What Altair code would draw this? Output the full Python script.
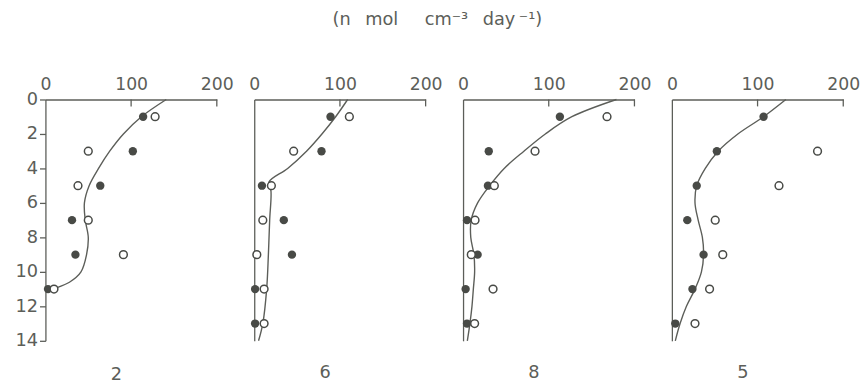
import altair as alt
import pandas as pd

# ---------------- data ----------------
panel_labels = ["2", "6", "8", "5"]

# panel "2"
p1_depth = [1, 3, 5, 7, 9, 11]
p1_filled = [114, 102, 64, 31, 35, 3]
p1_open = [128, 50, 38, 50, 91, 10]
p1_curve_depth = [0, 1, 2, 3, 4, 5, 6, 7, 8, 9, 10, 10.6, 11, 11.15]
p1_curve_val = [141, 112, 91, 75, 62, 51, 45.5, 46.5, 50, 48, 41.5, 28, 9, 2]

# panel "6"
p2_depth = [1, 3, 5, 7, 9, 11, 13]
p2_filled = [89, 78.5, 9, 34.5, 44, 1, 1]
p2_open = [111, 46, 20, 10, 3, 11.5, 11.5]
p2_curve_depth = [0, 1, 2, 3, 4, 4.8, 5.3, 7, 9, 11, 13, 14]
p2_curve_val = [109, 95, 79, 61, 39, 17, 19.5, 18, 16.5, 14.5, 10, 5]

# panel "8"
p3_depth = [1, 3, 5, 7, 9, 11, 13]
p3_filled = [113, 30, 29, 4.6, 17, 3, 4.6]
p3_open = [168, 84, 36.5, 14, 9.6, 35, 13.5]
p3_curve_depth = [0, 1, 2, 3, 4, 5, 6, 7, 8, 9, 10, 11, 12, 13, 14]
p3_curve_val = [179, 127, 96, 71, 48, 31, 17, 9.5, 9, 12.7, 13.5, 12, 10.4, 8, 5]

# panel "5"
p4_depth_filled = [1, 3, 5, 7, 9, 11, 13]
p4_filled = [107, 52.5, 29, 18, 37, 24, 4]
p4_depth_open = [3, 5, 7, 9, 11, 13]
p4_open = [170, 125, 50.6, 59.4, 44, 27]
p4_curve_depth = [0, 1, 2, 3, 4, 5, 6, 7, 8, 9, 10, 11, 12, 13, 14]
p4_curve_val = [133, 107, 77, 54, 39, 29, 27, 30.7, 35.6, 37, 34.5, 27, 17, 9.6, 4]

x_ticks = [0, 100, 200]
inner_ticks = [100, 200]
y_ticks = [0, 2, 4, 6, 8, 10, 12, 14]

title_text = "(n\u2002 mol\u2002\u2002\u2002cm\u207b\u00b3\u2002 day\u2009\u207b\u00b9)"

panels = [
    (p1_depth, p1_filled, p1_depth, p1_open, p1_curve_depth, p1_curve_val),
    (p2_depth, p2_filled, p2_depth, p2_open, p2_curve_depth, p2_curve_val),
    (p3_depth, p3_filled, p3_depth, p3_open, p3_curve_depth, p3_curve_val),
    (p4_depth_filled, p4_filled, p4_depth_open, p4_open, p4_curve_depth, p4_curve_val),
]

INK = "#5c5e59"
DOT = "#484a46"
FONT = "DejaVu Sans"

xscale = alt.Scale(domain=[0, 200], nice=False, zero=False)
yscale = alt.Scale(domain=[0, 14], reverse=True, nice=False, zero=False)

charts = []
for i, (fd, fv, od, ov, cd, cv) in enumerate(panels):
    first = i == 0
    filled_df = pd.DataFrame({"depth": fd, "value": fv})
    open_df = pd.DataFrame({"depth": od, "value": ov})
    curve_df = pd.DataFrame({"depth": cd, "value": cv})
    tick_df = pd.DataFrame({"t": inner_ticks})

    if first:
        yaxis = alt.Axis(
            values=y_ticks, title=None, labelFontSize=18, labelFont=FONT,
            labelColor=INK, tickColor=INK, tickSize=6, tickWidth=1.3,
            domainColor=INK, domainWidth=1.3, labelPadding=2, grid=False,
            labelOverlap=False, labelSeparation=0,
        )
    else:
        yaxis = alt.Axis(
            values=y_ticks, title=None, labels=False, ticks=False,
            domainColor=INK, domainWidth=1.3, grid=False,
        )
    xaxis = alt.Axis(
        values=x_ticks, orient="top", title=None, labelFontSize=17.5, labelFont=FONT,
        labelColor=INK, tickSize=0, domainColor=INK, domainWidth=1.3,
        labelPadding=6, labelFlush=False, labelOverlap=False, grid=False,
    )

    X = alt.X("value:Q", scale=xscale, axis=xaxis)
    Y = alt.Y("depth:Q", scale=yscale, axis=yaxis)

    curve = alt.Chart(curve_df).mark_line(
        interpolate="catmull-rom", color=INK, strokeWidth=1.4
    ).encode(x=X, y=Y, order=alt.Order("depth:Q"))
    filled = alt.Chart(filled_df).mark_circle(
        size=72, color=DOT, opacity=1
    ).encode(x=X, y=Y)
    opened = alt.Chart(open_df).mark_circle(
        size=62, fill="white", stroke=DOT, strokeWidth=1.5, opacity=1
    ).encode(x=X, y=Y)
    ticks = alt.Chart(tick_df).mark_rule(color=INK, strokeWidth=1.3).encode(
        x=alt.X("t:Q", scale=xscale, axis=xaxis), y=alt.value(0), y2=alt.value(7)
    )

    layer = alt.layer(curve, ticks, filled, opened).properties(
        width=174, height=245,
        title=alt.TitleParams(
            text=panel_labels[i], orient="bottom", fontSize=18, font=FONT,
            fontWeight="normal", color=INK, frame="group", dx=-15,
            offset=17 if first else 21,
        ),
    )
    charts.append(layer)

chart = alt.hconcat(*charts, spacing=15).properties(
    title=alt.TitleParams(
        text=title_text, fontSize=18, font=FONT, fontWeight="normal",
        color=INK, anchor="middle", offset=48,
    ),
    padding={"left": 7, "top": 0, "right": 0, "bottom": 0},
).configure(background="white").configure_view(stroke=None).configure_axisY(
    labelOverlap=False
)

chart.save("out.html", embed_options={"renderer": "svg", "actions": False})
